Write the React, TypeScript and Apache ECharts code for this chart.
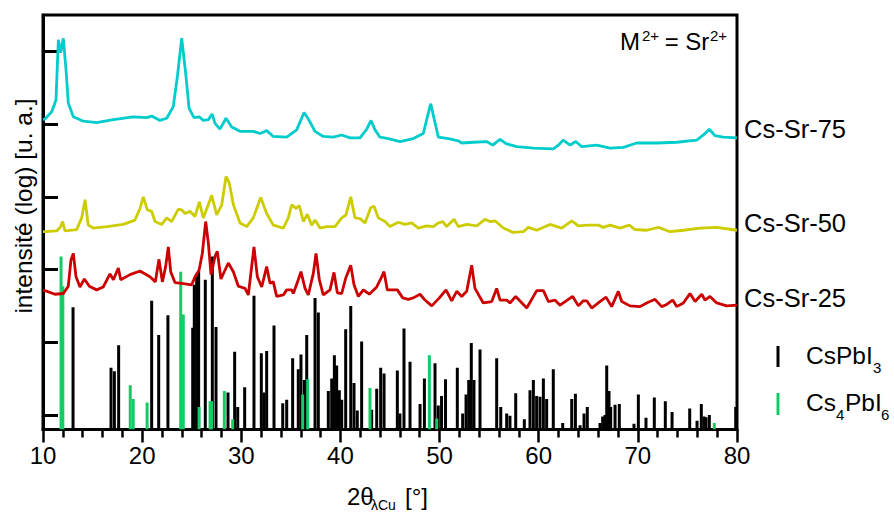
import React, { useEffect, useRef } from "react";
import * as echarts from "echarts";

// 2θ axis ticks and y decade ticks (log intensity, unlabeled)
const xTickInterval = 10;
const yDecadeTicks = [0, 1, 2, 3, 4, 5];
const X_MIN = 10;
const X_MAX = 80;
const Y_MIN = -0.2;
const Y_MAX = 5.5;

// Measured patterns: [2θ, log10 intensity (offset)]
const csSr75: [number, number][] = [
  [10.0, 4.06], [10.2, 4.07], [10.88, 4.17], [11.31, 4.33], [11.55, 5.16], [11.78, 4.98], [12.05, 5.18],
  [12.32, 4.75], [12.55, 4.29], [13.06, 4.1], [14.07, 4.04], [15.41, 4.02], [17.1, 4.06],
  [19.1, 4.1], [20.46, 4.09], [20.96, 4.11], [21.8, 4.05], [22.48, 4.08], [23.14, 4.24],
  [23.55, 4.65], [23.99, 5.18], [24.39, 4.7], [24.73, 4.22], [25.23, 4.09], [25.77, 4.1],
  [26.17, 4.05], [26.68, 4.06], [27.05, 4.14], [27.35, 4.01], [27.85, 3.93], [28.46, 4.08],
  [29.03, 3.96], [29.87, 3.9], [31.21, 3.9], [31.89, 3.87], [32.56, 3.91], [33.23, 3.83],
  [34.58, 3.82], [35.59, 3.92], [36.33, 4.16], [36.76, 4.07], [37.44, 3.9], [38.27, 3.83],
  [39.28, 3.82], [40.13, 3.85], [40.97, 3.81], [41.98, 3.81], [42.65, 3.93], [43.08, 4.05],
  [43.49, 3.92], [43.99, 3.82], [44.83, 3.8], [46.01, 3.76], [47.35, 3.8], [48.36, 3.87],
  [48.77, 4.1], [49.11, 4.28], [49.47, 4.06], [49.88, 3.82], [50.89, 3.8], [51.9, 3.77],
  [52.23, 3.74], [53.41, 3.75], [54.75, 3.76], [55.36, 3.71], [56.1, 3.79], [56.7, 3.73],
  [57.78, 3.69], [59.46, 3.67], [61.47, 3.66], [61.98, 3.71], [62.48, 3.78], [63.16, 3.71],
  [63.73, 3.76], [64.34, 3.69], [65.85, 3.71], [67.19, 3.67], [68.53, 3.68], [69.88, 3.74],
  [71.9, 3.74], [73.92, 3.75], [75.94, 3.78], [76.77, 3.87], [77.21, 3.93], [77.78, 3.84],
  [78.62, 3.82], [80.0, 3.81],
];

const csSr50: [number, number][] = [
  [10.0, 2.52], [10.2, 2.52], [11.38, 2.53], [11.78, 2.59], [11.98, 2.66], [12.22, 2.53], [13.4, 2.55],
  [13.9, 2.71], [14.24, 2.96], [14.57, 2.61], [15.07, 2.57], [16.43, 2.59], [18.1, 2.62],
  [19.28, 2.68], [19.78, 2.84], [20.12, 3.0], [20.52, 2.82], [20.96, 2.8], [21.3, 2.66],
  [21.97, 2.62], [22.48, 2.71], [22.98, 2.66], [23.65, 2.83], [23.99, 2.82], [24.32, 2.77],
  [24.83, 2.8], [25.33, 2.73], [25.77, 2.93], [26.17, 2.71], [27.02, 3.02], [27.52, 2.75],
  [28.03, 2.89], [28.46, 3.28], [28.79, 3.19], [29.2, 2.89], [29.87, 2.64], [30.55, 2.59],
  [31.21, 2.71], [31.96, 2.99], [32.56, 2.77], [33.23, 2.61], [34.24, 2.57], [34.74, 2.71],
  [35.08, 2.89], [35.52, 2.84], [35.85, 2.88], [36.26, 2.66], [36.66, 2.76], [37.1, 2.61],
  [37.44, 2.68], [37.94, 2.57], [38.61, 2.59], [39.45, 2.59], [40.13, 2.71], [40.56, 2.75],
  [41.04, 3.0], [41.47, 2.71], [41.98, 2.7], [42.48, 2.64], [43.05, 2.85], [43.39, 2.87],
  [43.82, 2.71], [44.5, 2.66], [45.0, 2.59], [45.84, 2.65], [46.51, 2.62], [47.19, 2.64],
  [47.86, 2.57], [48.7, 2.6], [49.37, 2.59], [49.88, 2.64], [50.32, 2.66], [50.72, 2.59],
  [51.46, 2.69], [51.9, 2.59], [52.74, 2.62], [53.75, 2.6], [54.58, 2.69], [55.09, 2.66],
  [55.59, 2.67], [56.43, 2.57], [57.44, 2.51], [58.45, 2.52], [58.95, 2.58], [59.8, 2.54],
  [61.14, 2.62], [62.32, 2.57], [63.33, 2.67], [64.0, 2.6], [65.0, 2.61], [66.01, 2.61],
  [66.52, 2.58], [67.19, 2.61], [68.2, 2.57], [69.14, 2.61], [69.71, 2.55], [70.89, 2.54],
  [72.07, 2.58], [73.25, 2.52], [74.59, 2.54], [76.27, 2.57], [77.95, 2.58], [80.0, 2.54],
];

const csSr25: [number, number][] = [
  [10.0, 1.71], [10.2, 1.71], [11.21, 1.66], [12.05, 1.67], [12.55, 1.77], [12.82, 2.13], [13.06, 2.22],
  [13.33, 1.9], [13.73, 1.76], [14.17, 1.87], [14.67, 1.77], [15.41, 1.72], [16.08, 1.76],
  [16.76, 1.94], [17.1, 1.86], [17.6, 2.02], [17.84, 1.86], [18.78, 1.93], [19.78, 1.98],
  [20.79, 1.9], [21.33, 1.83], [21.7, 2.14], [22.04, 1.83], [22.37, 2.04], [22.64, 2.31],
  [22.88, 1.97], [23.31, 1.82], [23.99, 1.81], [25.0, 1.79], [25.33, 1.9], [25.74, 1.99],
  [26.07, 2.22], [26.41, 2.66], [26.68, 2.36], [26.95, 1.93], [27.35, 2.18], [27.58, 2.25],
  [27.95, 1.87], [28.69, 2.09], [29.2, 1.97], [29.7, 1.77], [30.38, 1.74], [30.71, 1.65],
  [31.28, 2.31], [31.62, 1.9], [32.06, 1.76], [32.56, 2.04], [32.9, 1.81], [33.23, 1.83],
  [33.57, 1.63], [34.24, 1.65], [34.58, 1.72], [35.08, 1.72], [35.25, 1.67], [35.75, 1.86],
  [36.02, 1.97], [36.43, 1.74], [36.76, 1.65], [37.27, 1.95], [37.54, 2.22], [37.87, 1.86],
  [38.27, 1.65], [38.95, 1.72], [39.35, 1.96], [39.69, 1.68], [40.13, 1.67], [40.53, 1.88],
  [41.04, 2.06], [41.37, 1.79], [41.81, 1.63], [42.31, 1.72], [42.91, 1.66], [43.66, 1.76],
  [44.06, 1.87], [44.4, 1.97], [44.73, 1.72], [45.74, 1.72], [46.28, 1.61], [46.85, 1.59],
  [47.35, 1.61], [48.03, 1.66], [48.53, 1.58], [49.21, 1.5], [49.98, 1.61], [50.65, 1.72],
  [51.22, 1.57], [51.73, 1.7], [52.23, 1.63], [52.74, 1.7], [53.24, 2.06], [53.57, 1.74],
  [54.41, 1.54], [55.26, 1.56], [55.76, 1.74], [56.1, 1.58], [56.77, 1.58], [57.1, 1.54],
  [57.68, 1.63], [58.79, 1.47], [59.8, 1.71], [60.47, 1.71], [60.97, 1.56], [61.64, 1.58],
  [62.15, 1.51], [63.43, 1.63], [64.0, 1.5], [64.5, 1.57], [64.84, 1.57], [65.35, 1.47],
  [66.01, 1.54], [66.79, 1.62], [67.36, 1.49], [68.03, 1.7], [68.37, 1.56], [69.21, 1.5],
  [70.22, 1.49], [70.89, 1.54], [71.73, 1.59], [72.4, 1.49], [72.91, 1.52], [73.51, 1.58],
  [73.92, 1.49], [74.59, 1.54], [75.26, 1.67], [75.77, 1.56], [76.44, 1.66], [76.77, 1.58],
  [77.28, 1.63], [77.95, 1.54], [78.96, 1.5], [80.0, 1.51],
];

// Reference patterns (stick heights in decades)
const csPbI3Ref: [number, number][] = [
  [13.03, 1.48], [16.86, 0.65], [17.2, 0.6], [17.63, 0.96], [20.96, 1.57], [21.67, 1.1],
  [22.6, 1.37], [25.1, 1.2], [25.26, 1.79], [25.5, 1.9], [25.7, 1.98], [26.37, 1.86],
  [27.08, 2.18], [27.45, 1.21], [28.66, 0.31], [29.33, 0.87], [29.64, 0.11], [30.34, 0.38],
  [31.28, 1.64], [32.02, 0.85], [32.29, 0.31], [32.56, 0.88], [33.3, 1.23], [34.18, 0.16],
  [34.58, 0.21], [35.18, 0.78], [35.75, 0.63], [36.02, 0.83], [36.36, 0.48], [36.6, 1.1],
  [37.44, 1.61], [37.77, 1.41], [38.78, 0.33], [39.12, 0.5], [39.39, 0.82], [39.62, 0.68],
  [39.89, 0.34], [40.13, 0.21], [40.53, 1.18], [41.04, 1.5], [41.37, 0.44], [41.7, 0.06],
  [42.14, 1.01], [43.15, 0.07], [43.66, 0.36], [44.06, 0.65], [44.4, 0.57], [45.74, 0.61],
  [46.0, 0.02], [46.41, 1.19], [47.02, 0.73], [48.03, 0.15], [48.47, 0.5], [49.54, 0.71],
  [49.87, 0.13], [50.2, 0.26], [50.6, 0.49], [51.79, 0.65], [52.33, 0.02], [52.67, 0.28],
  [52.94, 0.48], [53.2, 0.99], [53.47, 0.48], [54.08, 0.9], [55.76, 0.78], [56.17, 0.11],
  [56.77, 0.02], [57.1, -0.01], [57.68, 0.3], [58.55, -0.06], [59.12, 0.34], [59.46, 0.48],
  [59.79, 0.26], [60.13, 0.25], [60.47, 0.5], [60.8, 0.22], [61.47, 0.63], [62.42, -0.11],
  [63.33, 0.22], [63.7, 0.29], [64.17, -0.14], [64.57, 0.02], [64.9, 0.11], [66.18, -0.11],
  [66.45, -0.02], [66.69, 0.0], [66.86, 0.68], [67.09, 0.33], [67.26, 0.11], [67.7, 0.14],
  [68.13, 0.15], [69.61, -0.12], [70.05, 0.28], [70.82, -0.04], [71.66, 0.24], [72.77, 0.19],
  [73.45, 0.04], [75.23, 0.09], [75.97, -0.08], [76.4, 0.15], [76.68, -0.02], [76.88, -0.03],
  [77.21, 0.0], [79.87, 0.11],
];

const cs4PbI6Ref: [number, number][] = [
  [11.82, 2.18], [12.0, 1.77], [18.8, 0.41], [19.1, 0.22], [20.5, 0.17], [23.89, 1.97],
  [24.15, 1.38], [25.74, 0.11], [26.85, 0.19], [27.0, 0.19], [28.29, 0.33], [29.13, -0.06],
  [36.19, 0.28], [36.7, 0.49], [42.98, 0.37], [48.97, 0.82], [49.71, -0.05], [77.71, -0.11],
];

const sampleLabels = ["Cs-Sr-75", "Cs-Sr-50", "Cs-Sr-25"];
const FONT = "'Liberation Sans', Arial, sans-serif";
const BLACK = "#000000";
const GREEN = "#14CC66";

function stickSeries(name: string, data: [number, number][], color: string) {
  return {
    type: "custom",
    name,
    data,
    encode: { x: 0, y: 1 },
    clip: true,
    renderItem: (_params: any, api: any) => {
      const top = api.coord([api.value(0), api.value(1)]);
      const base = api.coord([api.value(0), Y_MIN]);
      return {
        type: "line",
        shape: { x1: top[0], y1: base[1], x2: top[0], y2: top[1] },
        style: { stroke: color, lineWidth: 3 },
      };
    },
  };
}

function curve(name: string, data: [number, number][], color: string) {
  return {
    type: "line",
    name,
    data,
    showSymbol: false,
    symbol: "none",
    lineStyle: { color, width: 2.8 },
    clip: true,
  };
}

function txt(text: string, x: number, y: number, fontSize: number, align = "left", extra: any = {}) {
  return {
    type: "text",
    x,
    y,
    ...extra,
    style: {
      text,
      fill: BLACK,
      fontSize,
      fontFamily: FONT,
      align,
      verticalAlign: "middle",
    },
  };
}

export default function App() {
  const ref = useRef<HTMLDivElement>(null);
  useEffect(() => {
    if (!ref.current) return;
    const chart = echarts.init(ref.current, null, { renderer: "svg" });
    const option: any = {
      animation: false,
      backgroundColor: "#ffffff",
      grid: {
        left: 43,
        right: 157,
        top: 15,
        bottom: 83.5,
        show: true,
        borderColor: BLACK,
        borderWidth: 3,
        containLabel: false,
      },
      xAxis: {
        type: "value",
        min: X_MIN,
        max: X_MAX,
        interval: xTickInterval,
        axisLine: { show: true, onZero: false, lineStyle: { color: BLACK, width: 3 } },
        axisTick: { show: true, length: 13, lineStyle: { color: BLACK, width: 2.5 } },
        minorTick: { show: true, splitNumber: 5, length: 8, lineStyle: { color: BLACK, width: 2.5 } },
        axisLabel: { color: BLACK, fontSize: 24, fontFamily: FONT, margin: 14 },
        splitLine: { show: false },
        minorSplitLine: { show: false },
      },
      yAxis: {
        type: "value",
        min: Y_MIN,
        max: Y_MAX,
        axisLine: { show: true, onZero: false, lineStyle: { color: BLACK, width: 3 } },
        axisTick: {
          show: true,
          inside: true,
          length: 15,
          customValues: yDecadeTicks,
          lineStyle: { color: BLACK, width: 3 },
        },
        axisLabel: { show: false },
        splitLine: { show: false },
      },
      series: [
        curve(sampleLabels[0], csSr75, "#00CCCC"),
        curve(sampleLabels[1], csSr50, "#CCCC00"),
        curve(sampleLabels[2], csSr25, "#CC0000"),
        stickSeries("CsPbI3", csPbI3Ref, BLACK),
        stickSeries("Cs4PbI6", cs4PbI6Ref, GREEN),
      ],
      graphic: [
        // y-axis title
        txt("intensité (log) [u. a.]", 23.5, 206, 24.5, "center", { rotation: Math.PI / 2 }),
        // x-axis title
        txt("2θ", 347, 496, 24, "left"),
        txt("λCu", 371, 505, 14, "left"),
        txt("[°]", 405, 496.5, 24, "left"),
        // annotation
        txt("M", 620, 41, 24, "left"),
        txt("2+", 642, 35, 15, "left"),
        txt(" = Sr", 658, 41, 24, "left"),
        txt("2+", 710, 35, 15, "left"),
        // sample labels
        txt(sampleLabels[0], 744, 129, 25.5, "left"),
        txt(sampleLabels[1], 744, 223, 25.5, "left"),
        txt(sampleLabels[2], 744, 297.5, 25.5, "left"),
        // legend
        { type: "line", shape: { x1: 778, y1: 346, x2: 778, y2: 367 }, style: { stroke: BLACK, lineWidth: 3 } },
        { type: "line", shape: { x1: 778, y1: 393, x2: 778, y2: 415 }, style: { stroke: GREEN, lineWidth: 3 } },
        txt("CsPbI", 806, 355.5, 24.5, "left"),
        txt("3", 873, 367.5, 15, "left"),
        txt("Cs", 806, 402, 24.5, "left"),
        txt("4", 836, 414.5, 15, "left"),
        txt("PbI", 845, 402, 24.5, "left"),
        txt("6", 881, 414.5, 15, "left"),
      ],
    };
    chart.setOption(option);
    return () => chart.dispose();
  }, []);
  return (
    <div
      ref={ref}
      style={{ position: "fixed", left: 0, top: 0, width: 894, height: 513, background: "#fff" }}
    />
  );
}
